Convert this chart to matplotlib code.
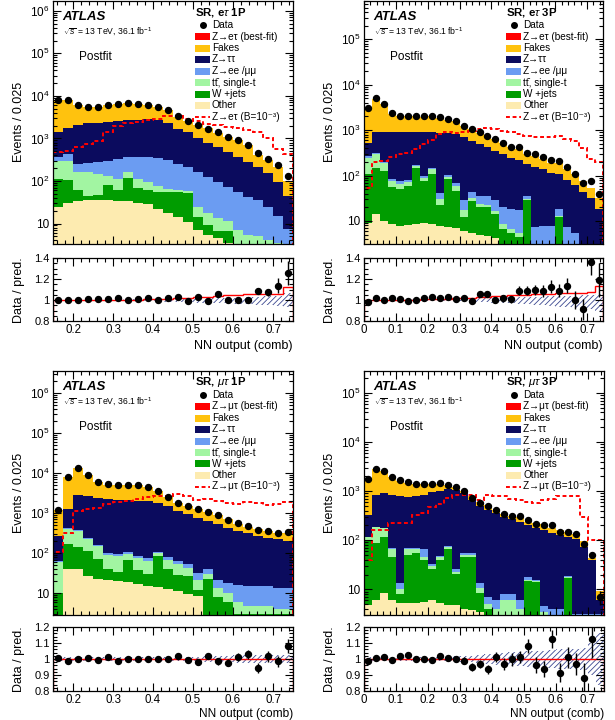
import numpy as np
import matplotlib
matplotlib.use("Agg")
import matplotlib.pyplot as plt
from matplotlib.patches import Rectangle
from matplotlib.lines import Line2D
from matplotlib.ticker import (FuncFormatter, MultipleLocator, NullFormatter,
                               FixedLocator, AutoMinorLocator)

plt.rcParams['font.family'] = ['Liberation Sans', 'DejaVu Sans']
plt.rcParams['mathtext.fontset'] = 'custom'
plt.rcParams['mathtext.rm'] = 'Liberation Sans'
plt.rcParams['mathtext.it'] = 'Liberation Sans:italic'
plt.rcParams['mathtext.bf'] = 'Liberation Sans:bold'
plt.rcParams['hatch.linewidth'] = 0.6

# ---------------- binning ----------------
x_min_1p, x_max_1p = 0.15, 0.75
x_min_3p, x_max_3p = 0.0, 0.75
bin_width = 0.025

# ---------------- SR, e tau 1P ----------------
etau1p_data = [8100, 7900, 6000, 5400, 5500, 6000, 6500, 6700, 6500, 6200, 5500, 4700,
               3300, 2600, 2100, 1700, 1400, 1100, 920, 700, 450, 330, 240, 128]
etau1p_ratio = [1.0, 1.0, 1.003, 1.006, 1.006, 1.006, 1.016, 1.002, 1.012, 1.015, 1.0, 1.019,
                1.025, 0.987, 1.025, 0.987, 1.057, 1.0, 1.0, 1.0, 1.089, 1.073, 1.137, 1.257]
etau1p_rerr = [0.005, 0.005, 0.006, 0.006, 0.006, 0.006, 0.006, 0.006, 0.006, 0.006, 0.007, 0.007,
               0.009, 0.01, 0.011, 0.012, 0.014, 0.016, 0.018, 0.02, 0.025, 0.035, 0.07, 0.11]
etau1p_other = [25, 30, 33, 35, 36, 35, 34, 33, 31, 28, 22, 18, 14, 11, 7, 5.5, 4.5, 3.5, 2.5, 2, 2, 1.5, 1.5, 1.5]
etau1p_wjets = [85, 75, 29, 10, 12, 45, 28, 82, 39, 32, 33, 37, 41, 41, 7, 3.5, 2, 3, 0.5, 0.5, 0.5, 0.5, 0.5, 0.5]
etau1p_ttbar = [190, 195, 100, 115, 95, 50, 50, 45, 40, 35, 22, 10, 8, 6, 10, 9, 7, 5, 4, 3, 2.5, 2, 1.5, 1]
etau1p_zll = [70, 130, 93, 100, 132, 170, 218, 200, 260, 265, 263, 245, 192, 152, 141, 107, 81, 60, 48, 37, 30, 21, 11.5, 4.5]
etau1p_ztt = [1010, 1370, 1845, 1990, 2075, 2150, 2220, 2290, 2330, 2440, 2410, 1940,
              1395, 1170, 885, 675, 525, 398, 305, 232, 175, 125, 80, 37]
etau1p_fakes = [6720, 6100, 3880, 3150, 3150, 3550, 3850, 4050, 3730, 3310, 2750, 2360,
                1570, 1250, 1000, 920, 710, 630, 560, 425, 203, 158, 115, 57]
etau1p_signal = [475, 520, 620, 740, 880, 1380, 1970, 2360, 2500, 2680, 2800, 3350,
                 3350, 2800, 2560, 2230, 2030, 1860, 1730, 1580, 1450, 1050, 565, 435]
etau1p_band_lo = [0.997, 0.997, 0.997, 0.997, 0.997, 0.996, 0.996, 0.995, 0.995, 0.994, 0.99, 0.985,
                  0.98, 0.978, 0.975, 0.972, 0.97, 0.968, 0.965, 0.96, 0.955, 0.95, 0.945, 0.93]
etau1p_band_hi = [1.003, 1.003, 1.003, 1.003, 1.003, 1.004, 1.004, 1.005, 1.005, 1.006, 1.006, 1.007,
                  1.008, 1.01, 1.012, 1.015, 1.018, 1.02, 1.022, 1.025, 1.03, 1.035, 1.04, 1.07]
etau1p_fitline = [1.0, 1.0, 1.0, 1.0, 1.0, 1.0, 1.0, 1.003, 1.003, 1.005, 1.008, 1.01,
                  1.015, 1.02, 1.025, 1.03, 1.04, 1.045, 1.05, 1.06, 1.06, 1.06, 1.06, 1.12]

# ---------------- SR, e tau 3P ----------------
etau3p_data = [3060, 5000, 3700, 2340, 2030, 2030, 2030, 2030, 2100, 1900, 1750, 1600, 1250, 1050, 890,
               750, 630, 530, 435, 415, 320, 295, 255, 218, 210, 158, 107, 70, 76, 40]
etau3p_ratio = [0.985, 1.02, 1.003, 1.02, 1.013, 0.99, 1.0, 1.02, 1.025, 1.02, 1.025, 1.005, 1.015, 0.99, 1.054,
                1.054, 1.0, 1.015, 1.006, 1.09, 1.09, 1.095, 1.085, 1.127, 1.09, 1.137, 1.0, 0.91, 1.365, 1.19]
etau3p_rerr = [0.01, 0.008, 0.01, 0.012, 0.012, 0.012, 0.012, 0.012, 0.012, 0.013, 0.014, 0.015, 0.017, 0.018, 0.02,
               0.022, 0.025, 0.03, 0.035, 0.04, 0.045, 0.05, 0.055, 0.06, 0.065, 0.075, 0.085, 0.1, 0.13, 0.16]
etau3p_other = [9, 14, 10, 8.5, 7.8, 8.2, 8.7, 9, 8.5, 7.8, 7.4, 7.1, 6, 5.5, 5,
                4.6, 4.2, 1.5, 1.5, 1.5, 1.5, 1.5, 1.5, 1.5, 1.5, 1.5, 1.5, 1.5, 1.5, 1.5]
etau3p_wjets = [100, 136, 117, 46, 42, 52, 141, 67, 98, 15, 76, 39, 6, 22, 15,
                16, 10, 5, 4, 3, 28, 0.5, 1, 1, 11, 0.5, 0.5, 0.3, 0.3, 0.3]
etau3p_ttbar = [130, 150, 60, 20, 15, 10, 10, 10, 30, 8, 8, 12, 5, 4, 3,
                2, 2, 2, 1, 1, 1, 0.3, 0.3, 0.3, 0.5, 0.3, 0.3, 0.3, 0.3, 0.3]
etau3p_zll = [30, 20, 15, 10, 10, 10, 10, 10, 10, 10, 10, 10, 12, 12, 12,
              12, 12, 12, 12, 12, 5, 5, 5, 5, 5, 5, 3, 0.3, 0.3, 0.3]
etau3p_ztt = [261, 570, 728, 805, 815, 810, 720, 794, 743, 839, 759, 752, 661, 536, 455,
              380, 322, 274, 231, 202, 142, 143, 131, 108, 88, 74, 58, 42, 29, 16]
etau3p_fakes = [2570, 4010, 2770, 1410, 1110, 1160, 1140, 1100, 1160, 980, 850, 780, 540, 480, 355,
                295, 280, 225, 185, 162, 116, 115, 95, 76, 86, 56, 43, 31, 23, 14]
etau3p_signal = [54, 195, 210, 250, 295, 320, 380, 490, 600, 810, 890, 850, 890, 960, 1050,
                 1100, 1050, 960, 890, 810, 750, 690, 690, 690, 750, 650, 580, 410, 230, 195]
etau3p_band_lo = [0.997, 0.997, 0.997, 0.997, 0.996, 0.996, 0.995, 0.995, 0.994, 0.993, 0.992, 0.99, 0.988, 0.985, 0.982,
                  0.978, 0.975, 0.97, 0.967, 0.963, 0.958, 0.953, 0.948, 0.943, 0.938, 0.933, 0.928, 0.92, 0.91, 0.9]
etau3p_band_hi = [1.003, 1.003, 1.003, 1.003, 1.004, 1.004, 1.005, 1.005, 1.006, 1.007, 1.008, 1.01, 1.012, 1.014, 1.016,
                  1.018, 1.02, 1.022, 1.024, 1.026, 1.028, 1.03, 1.032, 1.034, 1.036, 1.038, 1.04, 1.045, 1.05, 1.06]
etau3p_fitline = [1.0, 1.0, 1.0, 1.0, 1.0, 1.0, 1.003, 1.005, 1.008, 1.01, 1.012, 1.015, 1.018, 1.02, 1.025,
                  1.03, 1.035, 1.04, 1.045, 1.05, 1.05, 1.055, 1.06, 1.06, 1.065, 1.065, 1.065, 1.07, 1.075, 1.13]

# ---------------- SR, mu tau 1P ----------------
mutau1p_data = [1200, 8100, 13000, 8800, 6000, 5200, 5100, 5100, 5000, 4500, 3500, 2550,
                1840, 1500, 1250, 1100, 890, 680, 560, 470, 390, 355, 320, 340]
mutau1p_ratio = [1.005, 0.99, 1.0, 1.005, 0.995, 1.01, 0.985, 1.0, 1.0, 0.998, 1.0, 1.0,
                 1.017, 0.993, 0.98, 1.017, 0.985, 0.977, 1.01, 1.03, 0.943, 1.017, 0.985, 1.083]
mutau1p_rerr = [0.01, 0.008, 0.007, 0.008, 0.009, 0.01, 0.01, 0.01, 0.01, 0.01, 0.011, 0.012,
                0.014, 0.015, 0.017, 0.018, 0.02, 0.022, 0.025, 0.027, 0.03, 0.033, 0.035, 0.045]
mutau1p_other = [2, 40, 40, 27, 23, 22, 21, 19, 17, 15.5, 14.6, 13, 11.6, 9.6, 8.4, 2.5, 2, 2, 2, 2, 2, 2, 2, 2]
mutau1p_wjets = [8, 130, 100, 88, 49, 18, 14, 51, 21, 14.5, 70, 27, 18, 18, 3.6, 20, 6, 4, 1, 1, 1, 1, 1, 1]
mutau1p_ttbar = [50, 230, 220, 110, 80, 50, 50, 25, 40, 35, 15, 30, 25, 15, 10, 8, 6, 4, 3, 2, 2, 2, 1, 1]
mutau1p_zll = [5, 20, 15, 12, 10, 10, 10, 10, 10, 10, 10, 10, 10, 12, 10, 10, 8, 8, 10, 10, 10, 10, 10, 10]
mutau1p_ztt = [205, 830, 2425, 2463, 2288, 2150, 2055, 2045, 1912, 1925, 1730, 1420,
               1075, 885, 748, 597, 508, 421, 342, 299, 255, 225, 211, 191]
mutau1p_fakes = [925, 6930, 10200, 6060, 3580, 2900, 3030, 2950, 3000, 2500, 1660, 1050,
                 670, 570, 495, 440, 370, 260, 195, 140, 143, 110, 100, 109]
mutau1p_signal = [109, 330, 1140, 1300, 1350, 1670, 1900, 2000, 2200, 2550, 2700, 2700,
                  2950, 2650, 2150, 2200, 2000, 1840, 1730, 1900, 1750, 1580, 1670, 1900]
mutau1p_band_lo = [0.985, 0.988, 0.99, 0.99, 0.99, 0.99, 0.99, 0.99, 0.99, 0.99, 0.99, 0.99,
                   0.988, 0.987, 0.985, 0.984, 0.982, 0.98, 0.978, 0.976, 0.975, 0.975, 0.975, 0.972]
mutau1p_band_hi = [1.015, 1.012, 1.01, 1.01, 1.01, 1.01, 1.01, 1.01, 1.01, 1.01, 1.01, 1.01,
                   1.012, 1.013, 1.015, 1.016, 1.018, 1.02, 1.022, 1.024, 1.025, 1.025, 1.025, 1.028]
mutau1p_fitline = [0.997, 0.997, 0.997, 0.997, 0.997, 0.997, 0.997, 0.997, 0.997, 0.997, 0.997, 0.997,
                   0.997, 0.997, 0.997, 0.997, 0.997, 0.997, 0.997, 0.997, 0.997, 0.997, 0.997, 0.997]

# ---------------- SR, mu tau 3P ----------------
mutau3p_data = [1790, 2800, 2600, 1900, 1650, 1500, 1420, 1420, 1400, 1450, 1350, 1240, 1010, 740, 570,
                490, 415, 340, 315, 305, 260, 215, 200, 200, 145, 150, 133, 84, 50, 7]
mutau3p_ratio = [0.985, 1.008, 1.013, 0.996, 1.019, 1.028, 1.0, 0.998, 0.996, 1.017, 1.004, 0.998, 0.99, 0.95, 0.968,
                 0.935, 1.013, 0.97, 0.998, 1.013, 1.08, 0.963, 0.935, 1.125, 0.914, 1.01, 0.968, 0.882, 1.125, np.nan]
mutau3p_rerr = [0.015, 0.012, 0.012, 0.014, 0.015, 0.016, 0.016, 0.016, 0.016, 0.016, 0.017, 0.018, 0.02, 0.023, 0.027,
                0.03, 0.033, 0.036, 0.04, 0.04, 0.045, 0.05, 0.05, 0.055, 0.06, 0.065, 0.07, 0.09, 0.12, 0.3]
mutau3p_other = [4.8, 6, 8.3, 6.2, 5.2, 5.2, 5.2, 5.5, 6.2, 5.2, 4.8, 4.8, 4, 3.8, 3.5,
                 2, 2, 2, 2, 2, 2, 2, 2, 2, 2, 2, 2, 2, 2, 2]
mutau3p_wjets = [90, 80, 110, 40, 3, 45, 50, 35, 20, 35, 62, 16, 42, 42, 5,
                 2, 1, 1, 1, 1, 13, 12, 1, 0.5, 0.5, 15, 0.3, 0.3, 0.3, 0.3]
mutau3p_ttbar = [20, 100, 60, 20, 2, 15, 10, 5, 3, 5, 5, 2, 5, 5, 2,
                 1, 1, 3, 3, 1, 0.5, 0.5, 0.5, 0.5, 0.5, 0.5, 0.3, 0.3, 0.3, 0.3]
mutau3p_zll = [3, 3, 3, 3, 3, 3, 3, 20, 3, 3, 3, 3, 3, 3, 3,
               2, 2, 2, 2, 2, 2, 1, 1, 1, 1, 1, 0.5, 0.5, 0.5, 0.5]
mutau3p_ztt = [212, 651, 729, 771, 767, 682, 712, 774, 908, 962, 1025, 1044, 856, 606, 476,
               413, 349, 292, 262, 234, 187, 164, 155, 139, 124, 100, 102, 71, 37, 3]
mutau3p_fakes = [1490, 1940, 1660, 1070, 840, 710, 640, 580, 465, 415, 245, 170, 110, 120, 100,
                 105, 55, 50, 45, 60, 35, 43, 54, 35, 31, 29, 32, 21, 4, 3]
mutau3p_signal = [40, 160, 160, 220, 220, 220, 330, 355, 480, 560, 720, 840, 840, 840, 660,
                  850, 780, 780, 700, 660, 600, 570, 660, 700, 780, 780, 780, 300, 100, 100]
mutau3p_band_lo = [0.985, 0.987, 0.987, 0.987, 0.987, 0.987, 0.987, 0.987, 0.987, 0.986, 0.985, 0.984, 0.982, 0.98, 0.975,
                   0.97, 0.965, 0.96, 0.958, 0.955, 0.952, 0.95, 0.948, 0.945, 0.94, 0.94, 0.935, 0.93, 0.9, 0.84]
mutau3p_band_hi = [1.015, 1.013, 1.013, 1.013, 1.013, 1.013, 1.013, 1.013, 1.013, 1.014, 1.015, 1.016, 1.018, 1.02, 1.025,
                   1.03, 1.035, 1.04, 1.042, 1.045, 1.048, 1.05, 1.052, 1.055, 1.06, 1.06, 1.065, 1.07, 1.1, 1.16]
mutau3p_fitline = [0.997, 0.997, 0.997, 0.997, 0.997, 0.997, 0.997, 0.997, 0.997, 0.997, 0.997, 0.997, 0.997, 0.997, 0.997,
                   0.997, 0.997, 0.997, 0.997, 0.997, 0.997, 0.997, 0.997, 0.997, 0.997, 0.997, 0.997, 0.997, 0.997, 0.997]

# ---------------- style ----------------
C_OTHER = '#fdebb0'
C_W = '#009c00'
C_TT = '#a2f5a2'
C_ZLL = '#6b9cf2'
C_ZTT = '#0b0b5e'
C_FAKE = '#ffc20e'
C_SIG = '#ff0000'
C_HATCH = '#3a4790'

fig = plt.figure(figsize=(6.15, 7.2), dpi=100)
W, H = 615.0, 720.0


def axbox(x0, x1, y0, y1):
    return [x0 / W, 1 - y1 / H, (x1 - x0) / W, (y1 - y0) / H]


def log_fmt(v, pos):
    e = int(round(np.log10(v)))
    return '10' if e == 1 else r'$10^{%d}$' % e


def decade_ticks(lo, hi):
    k0, k1 = int(np.ceil(np.log10(lo))), int(np.floor(np.log10(hi)))
    major = [10.0 ** k for k in range(k0, k1 + 1)]
    minor = [m * 10.0 ** k for k in range(k0 - 1, k1 + 1) for m in range(2, 10)
             if lo <= m * 10.0 ** k <= hi]
    return major, minor


def draw(px, rpx, xmin, xmax, ylim, rylim, rmajor, comps, data, ratio, rerr,
         signal, band_lo, band_hi, fitline, title, lep):
    ax = fig.add_axes(axbox(*px))
    axr = fig.add_axes(axbox(*rpx))
    wpx = px[1] - px[0]
    hpx = px[3] - px[2]
    n = len(data)
    edges = xmin + bin_width * np.arange(n + 1)
    centers = 0.5 * (edges[:-1] + edges[1:])

    bottom = np.full(n, 1e-3)
    for vals, color in comps:
        top = bottom + np.asarray(vals, float)
        ax.stairs(top, edges, baseline=bottom, fill=True, color=color, lw=0)
        bottom = top
    ax.stairs(signal, edges, color=C_SIG, lw=1.4, ls=(0, (2.0, 1.4)))
    data = np.asarray(data, float)
    ratio = np.asarray(ratio, float)
    rerr = np.asarray(rerr, float)
    ax.errorbar(centers, data, yerr=data * rerr, fmt='o', color='k', ms=4.3,
                elinewidth=1.0, capsize=0, zorder=5)
    ax.set_yscale('log')
    ax.set_xlim(xmin, xmax)
    ax.set_ylim(*ylim)
    major, minor = decade_ticks(*ylim)
    ax.yaxis.set_major_locator(FixedLocator(major))
    ax.yaxis.set_minor_locator(FixedLocator(minor))
    ax.yaxis.set_major_formatter(FuncFormatter(log_fmt))
    ax.yaxis.set_minor_formatter(NullFormatter())

    # ratio
    axr.stairs(band_hi, edges, baseline=band_lo, fill=True, facecolor='none',
               edgecolor=C_HATCH, hatch='//////', lw=0)
    axr.stairs(fitline, edges, color=C_SIG, lw=1.0)
    ok = ~np.isnan(ratio)
    axr.errorbar(centers[ok], ratio[ok], yerr=rerr[ok], fmt='o', color='k', ms=4.3,
                 elinewidth=1.0, capsize=0, zorder=5)
    axr.set_xlim(xmin, xmax)
    axr.set_ylim(*rylim)
    axr.yaxis.set_major_locator(FixedLocator(rmajor))
    axr.yaxis.set_major_formatter(FuncFormatter(lambda v, p: '%g' % v))
    axr.yaxis.set_minor_locator(AutoMinorLocator(5 if len(rmajor) > 4 else 4))

    for a in (ax, axr):
        a.xaxis.set_major_locator(MultipleLocator(0.1))
        a.xaxis.set_minor_locator(MultipleLocator(0.02))
        a.tick_params(which='both', direction='in', top=True, right=True, labelsize=8.5, width=0.8)
        a.tick_params(which='major', length=6)
        a.tick_params(which='minor', length=3)
        a.tick_params(axis='y', pad=2.5)
        for s in a.spines.values():
            s.set_linewidth(0.9)
    ax.tick_params(labelbottom=False)
    axr.tick_params(axis='x', pad=2.5, labelsize=8.3)
    axr.tick_params(axis='y', labelsize=8.0)
    axr.xaxis.set_major_formatter(FuncFormatter(lambda v, p: '%g' % round(v, 3)))

    # texts
    ax.text(0.04, 0.935, 'ATLAS', transform=ax.transAxes, fontsize=9.5, fontweight='bold',
            fontstyle='italic', va='center', ha='left')
    ax.text(0.04, 0.872, r'$\sqrt{s}$ = 13 TeV, 36.1 fb$^{-1}$', transform=ax.transAxes,
            fontsize=6.2, va='center', ha='left')
    ax.text(0.11, 0.77, 'Postfit', transform=ax.transAxes, fontsize=8.5, va='center', ha='left')

    # legend drawn by hand (pixel offsets from the axes top-left corner)
    def fx(p):
        return p / wpx

    def fy(p):
        return 1 - p / hpx

    hx0, hw, hh, tx = 142, 15, 7, 159
    ax.text(fx(hx0), fy(11.5), title, transform=ax.transAxes, fontsize=8.2,
            fontweight='bold', va='center', ha='left')
    entries = [
        ('data', None, 'Data'),
        ('box', C_SIG, 'Z\u2192%s (best-fit)' % lep),
        ('box', C_FAKE, 'Fakes'),
        ('box', C_ZTT, 'Z\u2192\u03c4\u03c4'),
        ('box', C_ZLL, 'Z\u2192ee /\u03bc\u03bc'),
        ('box', C_TT, 't\u0074\u0304, single-t'),
        ('box', C_W, 'W +jets'),
        ('box', C_OTHER, 'Other'),
        ('dash', C_SIG, 'Z\u2192%s (B=10\u207b\u00b3)' % lep),
    ]
    offsets = [24, 35.5, 47, 58.5, 70, 81.5, 93, 104, 115.5]
    for (kind, col, lab), off in zip(entries, offsets):
        yc = fy(off)
        if kind == 'data':
            ax.add_line(Line2D([fx(hx0 + hw / 2)], [yc], transform=ax.transAxes,
                               marker='o', color='k', ms=4, ls='none'))
        elif kind == 'box':
            ax.add_patch(Rectangle((fx(hx0), yc - hh / 2 / hpx), hw / wpx, hh / hpx,
                                   transform=ax.transAxes, facecolor=col, edgecolor='none'))
        else:
            ax.add_line(Line2D([fx(hx0), fx(hx0 + hw)], [yc, yc], transform=ax.transAxes,
                               color=col, lw=1.4, ls=(0, (2.0, 1.4))))
        ax.text(fx(tx), yc, lab, transform=ax.transAxes, fontsize=7.2, va='center', ha='left')
    return ax, axr


panels = [
    dict(px=(53, 293, 1, 244), rpx=(53, 293, 258, 321),
         xmin=x_min_1p, xmax=x_max_1p, ylim=(3.3, 1.7e6), rylim=(0.8, 1.4),
         rmajor=[0.8, 1.0, 1.2, 1.4],
         comps=[(etau1p_other, C_OTHER), (etau1p_wjets, C_W), (etau1p_ttbar, C_TT),
                (etau1p_zll, C_ZLL), (etau1p_ztt, C_ZTT), (etau1p_fakes, C_FAKE)],
         data=etau1p_data, ratio=etau1p_ratio, rerr=etau1p_rerr, signal=etau1p_signal,
         band_lo=etau1p_band_lo, band_hi=etau1p_band_hi, fitline=etau1p_fitline,
         title=r'SR, e$\tau$ 1P', lep='e\u03c4'),
    dict(px=(364, 603, 1, 244), rpx=(364, 603, 258, 321),
         xmin=x_min_3p, xmax=x_max_3p, ylim=(3.1, 7e5), rylim=(0.8, 1.4),
         rmajor=[0.8, 1.0, 1.2, 1.4],
         comps=[(etau3p_other, C_OTHER), (etau3p_wjets, C_W), (etau3p_ttbar, C_TT),
                (etau3p_zll, C_ZLL), (etau3p_ztt, C_ZTT), (etau3p_fakes, C_FAKE)],
         data=etau3p_data, ratio=etau3p_ratio, rerr=etau3p_rerr, signal=etau3p_signal,
         band_lo=etau3p_band_lo, band_hi=etau3p_band_hi, fitline=etau3p_fitline,
         title=r'SR, e$\tau$ 3P', lep='e\u03c4'),
    dict(px=(53, 293, 371, 615), rpx=(53, 293, 627, 691),
         xmin=x_min_1p, xmax=x_max_1p, ylim=(2.9, 3.5e6), rylim=(0.8, 1.2),
         rmajor=[0.8, 0.9, 1.0, 1.1, 1.2],
         comps=[(mutau1p_other, C_OTHER), (mutau1p_wjets, C_W), (mutau1p_ttbar, C_TT),
                (mutau1p_zll, C_ZLL), (mutau1p_ztt, C_ZTT), (mutau1p_fakes, C_FAKE)],
         data=mutau1p_data, ratio=mutau1p_ratio, rerr=mutau1p_rerr, signal=mutau1p_signal,
         band_lo=mutau1p_band_lo, band_hi=mutau1p_band_hi, fitline=mutau1p_fitline,
         title=r'SR, $\mu\tau$ 1P', lep='\u03bc\u03c4'),
    dict(px=(364, 604, 371, 615), rpx=(364, 604, 627, 691),
         xmin=x_min_3p, xmax=x_max_3p, ylim=(3.0, 2.8e5), rylim=(0.8, 1.2),
         rmajor=[0.8, 0.9, 1.0, 1.1, 1.2],
         comps=[(mutau3p_other, C_OTHER), (mutau3p_wjets, C_W), (mutau3p_ttbar, C_TT),
                (mutau3p_zll, C_ZLL), (mutau3p_ztt, C_ZTT), (mutau3p_fakes, C_FAKE)],
         data=mutau3p_data, ratio=mutau3p_ratio, rerr=mutau3p_rerr, signal=mutau3p_signal,
         band_lo=mutau3p_band_lo, band_hi=mutau3p_band_hi, fitline=mutau3p_fitline,
         title=r'SR, $\mu\tau$ 3P', lep='\u03bc\u03c4'),
]

for p in panels:
    draw(**p)

# axis titles
for xc, ym, yr in [(19, 122, 290), (330, 122, 290), (19, 493, 659), (330, 493, 659)]:
    fig.text(xc / W, 1 - ym / H, 'Events / 0.025', rotation=90, ha='center', va='center', fontsize=9)
    fig.text(xc / W, 1 - yr / H, 'Data / pred.', rotation=90, ha='center', va='center', fontsize=9)
for xr, yc in [(293, 346), (603, 346)]:
    fig.text(xr / W, 1 - yc / H, 'NN output (comb)', ha='right', va='center', fontsize=9)
for xr in (293, 604):
    fig.text(xr / W, 0.3 / H, 'NN output (comb)', ha='right', va='bottom', fontsize=8.6)

fig.savefig('out.png', dpi=100)
